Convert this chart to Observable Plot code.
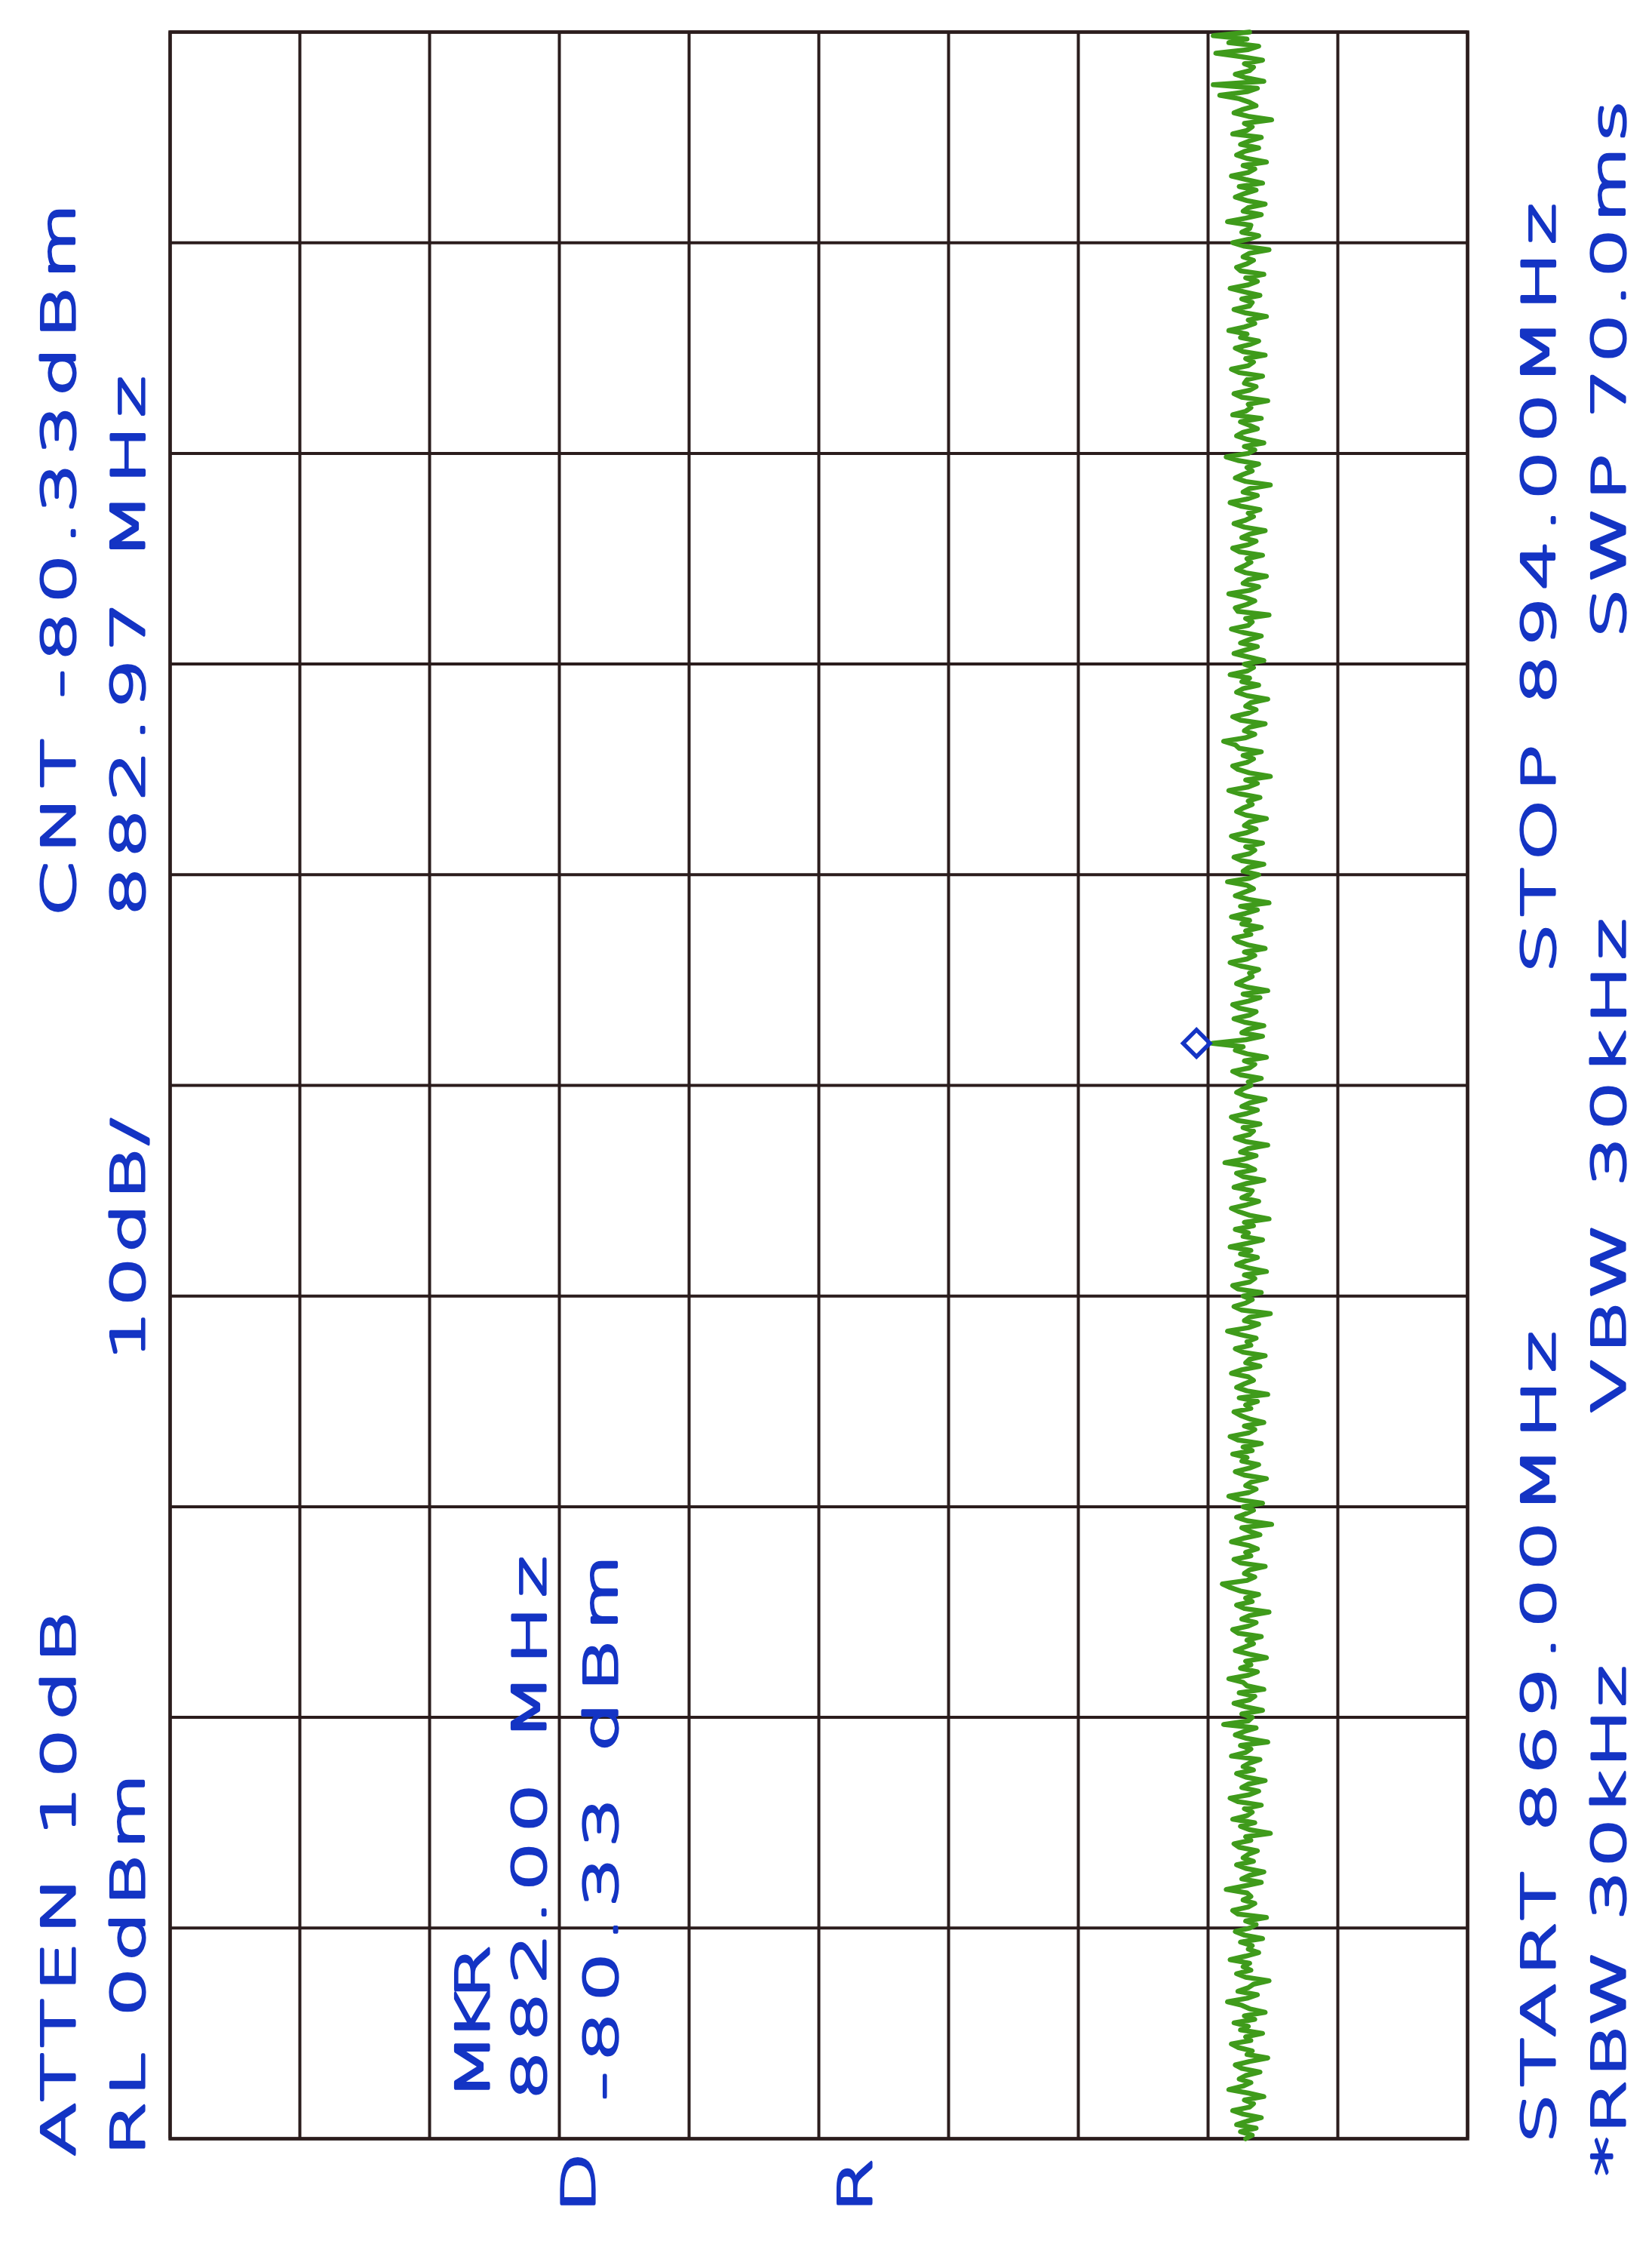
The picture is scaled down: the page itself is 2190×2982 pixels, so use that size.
<!DOCTYPE html>
<html><head><meta charset="utf-8">
<script src="https://cdn.jsdelivr.net/npm/d3@7"></script>
<script src="https://cdn.jsdelivr.net/npm/@observablehq/plot@0.6"></script>
<style>html,body{margin:0;padding:0;background:#fff;} #chart svg{display:block;}</style>
</head><body><div id="chart"></div>
<script>
// ---- data ----
const startMHz = 869.00;
const stopMHz = 894.00;
const freqTicks = [869, 871.5, 874, 876.5, 879, 881.5, 884, 886.5, 889, 891.5, 894];
const levelTicks = [0, -10, -20, -30, -40, -50, -60, -70, -80, -90, -100];
// trace amplitude (dBm), 601 sweep points from START (index 0) to STOP (index 600)
const traceLevels = [
-82.9,-83.4,-82.5,-83.7,-82.2,-83.0,-84.1,-82.7,-81.9,-83.2,-83.5,-82.8,-84.3,-83.1,-81.6,-82.7,-83.3,-82.4,-82.9,-84.0,-82.6,-82.1,-83.2,-84.6,-83.0,-83.4,-82.3,-81.8,-83.3,-82.9,-84.2,-82.5,-83.1,-82.0,-83.6,-82.8,-84.4,-83.2,-82.6,-81.5,
-83.0,-83.8,-82.3,-83.1,-83.5,-84.7,-82.9,-82.2,-83.3,-82.7,-83.2,-81.7,-82.9,-83.9,-83.1,-83.4,-82.5,-84.2,-82.8,-82.1,-83.2,-83.7,-82.9,-84.5,-82.3,-81.9,-83.1,-83.6,-82.7,-83.3,-83.0,-81.4,-82.8,-84.1,-82.6,-83.2,-84.3,-82.9,-82.2,-83.5,
-82.7,-83.1,-83.8,-82.4,-82.0,-83.3,-82.9,-84.8,-83.2,-82.5,-83.6,-81.9,-83.0,-83.4,-82.8,-84.1,-82.3,-81.7,-83.2,-83.9,-82.6,-83.1,-84.4,-82.9,-82.2,-83.5,-82.7,-83.2,-84.0,-81.8,-82.9,-83.3,-82.5,-84.6,-83.0,-82.1,-82.8,-83.7,-81.2,-83.1,
-83.4,-82.6,-84.2,-82.9,-82.0,-83.2,-83.6,-82.4,-84.3,-83.0,-82.7,-81.6,-83.1,-83.8,-82.5,-83.3,-82.9,-84.5,-83.2,-82.1,-82.8,-83.5,-83.0,-84.1,-82.3,-81.9,-83.1,-83.7,-82.6,-83.2,-84.7,-82.8,-82.2,-83.4,-82.9,-83.9,-82.5,-81.7,-81.1,-83.0,
-83.6,-82.8,-83.2,-84.4,-82.5,-82.0,-83.3,-82.9,-83.8,-83.1,-81.8,-82.7,-84.0,-83.2,-82.6,-84.9,-83.0,-82.2,-82.9,-83.5,-82.7,-84.2,-82.4,-81.6,-83.1,-83.7,-82.9,-83.3,-84.5,-82.8,-82.1,-83.2,-83.9,-82.6,-83.0,-81.9,-83.4,-82.7,-84.1,-82.3,
-81.7,-83.1,-83.6,-82.8,-84.3,-83.2,-82.5,-82.0,-83.3,-82.9,-83.8,-82.4,-84.6,-83.0,-82.2,-82.8,-83.5,-83.1,-81.8,-82.6,-84.0,-82.9,-83.2,-84.4,-82.7,-82.1,-83.3,-83.0,-83.7,-82.5,-81.5,-83.1,-83.9,-82.8,-83.2,-84.8,-82.6,-82.0,-82.9,-83.4,
-82.7,-84.1,-82.3,-81.9,-83.2,-83.6,-82.8,-84.5,-83.1,-82.2,-82.9,-83.8,-82.5,-83.3,-81.7,-83.0,-84.2,-82.7,-83.1,-82.1,-83.5,-82.8,-84.7,-83.2,-82.4,-81.8,-83.0,-83.9,-82.6,-83.2,-83.4,-82.0,-82.9,-84.3,-82.7,-82.2,-83.6,-83.0,-81.3,-82.8,
-83.7,-82.5,-83.1,-84.6,-82.9,-82.1,-83.2,-83.5,-82.7,-84.0,-82.3,-81.8,-83.0,-83.8,-82.6,-83.2,-84.4,-82.9,-82.2,-82.7,-83.3,-83.1,-84.1,-82.5,-81.9,-83.2,-83.6,-82.8,-84.5,-83.0,-82.1,-82.7,-80.33,-82.9,-84.2,-82.6,-83.1,-84.3,-82.8,-82.0,
-83.2,-83.7,-82.4,-81.9,-83.1,-84.0,-82.7,-84.6,-83.0,-82.2,-82.8,-83.4,-83.2,-83.9,-82.5,-81.7,-83.0,-83.6,-82.8,-84.4,-83.1,-82.3,-82.0,-83.3,-82.9,-84.1,-82.6,-83.2,-81.8,-82.9,-83.8,-82.5,-84.7,-83.1,-82.1,-82.8,-83.5,-83.0,-81.5,-83.2,
-83.9,-82.7,-83.1,-84.3,-82.6,-82.0,-83.2,-83.6,-82.9,-84.2,-82.4,-81.8,-83.0,-83.7,-82.8,-83.2,-84.5,-82.9,-82.2,-82.7,-83.4,-83.1,-84.0,-82.5,-81.6,-83.1,-83.8,-82.9,-84.8,-83.2,-82.3,-81.9,-83.0,-83.5,-82.7,-84.1,-82.4,-82.1,-81.2,-82.9,
-83.6,-82.8,-83.2,-84.4,-82.5,-81.9,-83.1,-83.7,-82.9,-83.3,-84.6,-83.0,-82.2,-82.7,-83.9,-82.6,-83.2,-81.7,-83.0,-83.5,-82.8,-84.3,-83.1,-82.0,-82.9,-83.8,-82.5,-83.2,-84.1,-82.7,-81.8,-83.1,-83.4,-82.9,-84.7,-82.3,-82.1,-83.0,-83.6,-82.8,
-81.6,-83.2,-83.9,-82.7,-83.1,-84.5,-82.9,-82.2,-82.8,-83.3,-83.0,-84.2,-82.4,-81.9,-83.1,-83.7,-82.6,-83.2,-84.4,-82.8,-82.0,-82.9,-83.5,-83.1,-84.0,-82.5,-81.7,-83.0,-83.8,-82.7,-83.2,-84.8,-82.9,-82.1,-82.7,-83.4,-83.0,-83.9,-82.3,-81.4,
-83.1,-83.6,-82.8,-84.3,-83.0,-82.2,-82.7,-83.8,-83.2,-82.5,-84.1,-81.9,-82.9,-83.3,-83.1,-84.6,-82.6,-82.0,-83.2,-83.7,-82.8,-83.0,-84.2,-82.4,-81.8,-83.1,-83.5,-82.9,-84.4,-82.7,-82.1,-83.2,-83.9,-82.5,-83.0,-81.6,-82.8,-83.6,-83.1,-84.5,
-82.9,-82.0,-83.2,-83.4,-82.6,-84.0,-82.8,-81.7,-83.1,-83.8,-82.9,-84.3,-82.5,-82.2,-83.0,-83.5,-82.7,-83.2,-84.7,-82.8,-81.9,-83.1,-83.9,-82.6,-83.2,-83.3,-81.5,-82.9,-84.1,-82.7,-83.1,-84.4,-83.0,-82.1,-82.8,-83.7,-82.4,-84.2,-82.9,-81.8,
-83.1,-83.6,-82.7,-84.5,-83.0,-82.2,-82.8,-83.9,-82.5,-83.2,-84.1,-81.9,-83.0,-83.4,-82.8,-84.9,-83.1,-82.0,-82.7,-83.7,-83.2,-82.4,-80.9,-83.0,-83.8,-80.4,-84.3,-82.9,-82.1,-83.2,-83.5,-82.8,-84.2,-82.5,-80.6,-83.1,-83.9,-81.6,-83.0,-80.4,
-83.2
];
const markerFreq = 882.00;
const markerLevel = -80.33;
const leftLines = ["ATTEN 10dB", "RL 0dBm", "10dB/", "CNT -80.33dBm", "882.97 MHz"];
const markerLines = ["MKR", "882.00 MHz", "-80.33 dBm"];
const rightLines = ["START 869.00MHz", "*RBW 30kHz", "VBW 30kHz", "STOP 894.00MHz", "SWP 70.0ms"];
const footLines = ["D", "R"];

// ---- build ----
const step = (stopMHz - startMHz) / (traceLevels.length - 1);
const trace = traceLevels.map((v, i) => ({freq: startMHz + i * step, level: v}));

const gridColor = "#2b1d1d";
const traceColor = "#3f9b1b";
const textColor = "#1434c4";
const font = "DejaVu Sans";
const stretch = 1.72;

// is a light weight of the font available?
const ctx = document.createElement("canvas").getContext("2d");
ctx.font = "200 100px 'DejaVu Sans'";
const wLight = ctx.measureText("ABCDEHMNRSTW0123").width;
ctx.font = "400 100px 'DejaVu Sans'";
const wBook = ctx.measureText("ABCDEHMNRSTW0123").width;
const hasLight = Math.abs(wLight - wBook) > 2;
const fontWeight = hasLight ? 200 : 400;
const textStroke = hasLight ? 3.2 : 0.8;

// layout: [x (dBm), y (MHz) of text start, text length px]
const layout = new Map([
  [leftLines[0], [8.49, 868.794, 721]],
  [leftLines[1], [3.11, 868.794, 507]],
  [leftLines[2], [3.11, 878.241, 320]],
  [leftLines[3], [8.49, 883.506, 945]],
  [leftLines[4], [3.11, 883.506, 716]],
  [markerLines[0], [-23.43, 869.457, 206]],
  [markerLines[1], [-27.79, 869.457, 721]],
  [markerLines[2], [-33.31, 869.457, 723]],
  [rightLines[0], [-105.58, 868.946, 1076]],
  [rightLines[1], [-110.99, 868.561, 676]],
  [rightLines[2], [-110.99, 877.614, 655]],
  [rightLines[3], [-105.58, 882.834, 1020]],
  [rightLines[4], [-110.99, 886.810, 712]],
  [footLines[0], [-31.57, 868.122, 55]],
  [footLines[1], [-52.91, 868.122, 55]]
]);

const allLines = [...leftLines, ...markerLines, ...rightLines, ...footLines];
const labelMarks = allLines.map(t => {
  const [lx, ly] = layout.get(t);
  return Plot.text([t], {
    x: lx, y: ly, text: d => d,
    rotate: -90, textAnchor: "start", lineAnchor: "middle",
    fontSize: 60, fontFamily: font, fontWeight, fill: textColor,
    stroke: textColor, strokeWidth: textStroke
  });
});

const chart = Plot.plot({
  width: 2190, height: 2982,
  marginLeft: 225, marginRight: 245, marginTop: 42, marginBottom: 148,
  x: {domain: [0, -100], axis: null},
  y: {domain: [startMHz, stopMHz], axis: null},
  style: {background: "#ffffff"},
  marks: [
    Plot.gridX(levelTicks, {stroke: gridColor, strokeOpacity: 1, strokeWidth: 4}),
    Plot.gridY(freqTicks, {stroke: gridColor, strokeOpacity: 1, strokeWidth: 4}),
    Plot.frame({stroke: gridColor, strokeWidth: 4.5}),
    Plot.line(trace, {x: "level", y: "freq", stroke: traceColor, strokeWidth: 6.5, strokeLinejoin: "round"}),
    Plot.dot([{freq: markerFreq, level: markerLevel}], {x: "level", y: "freq", symbol: "diamond2", r: 16, dx: -21, stroke: textColor, strokeWidth: 5.5, fill: "none"}),
    ...labelMarks
  ]
});

chart.querySelectorAll("text").forEach(el => {
  const t = el.textContent;
  if (layout.has(t)) {
    const tr = el.getAttribute("transform") || "";
    el.setAttribute("transform", tr + ` scale(${stretch},1)`);
    el.setAttribute("textLength", layout.get(t)[2] / stretch);
    el.setAttribute("lengthAdjust", "spacing");
  }
});

document.getElementById("chart").appendChild(chart);
</script>
</body></html>
